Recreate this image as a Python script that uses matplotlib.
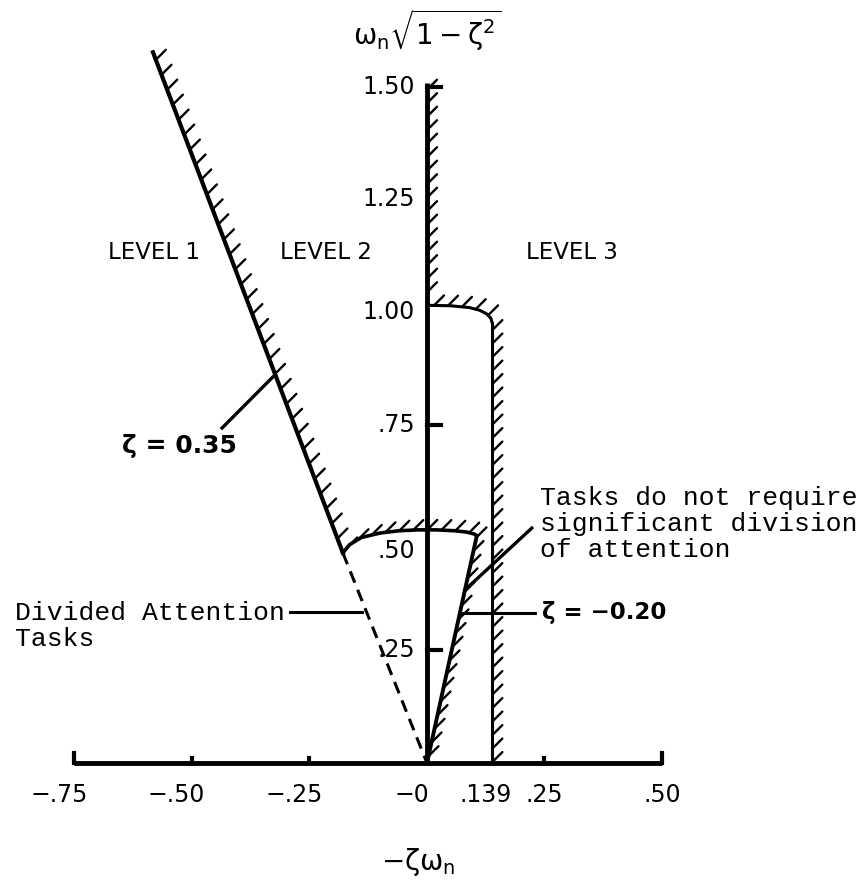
import numpy as np
import matplotlib
matplotlib.use('Agg')
import matplotlib.pyplot as plt
from matplotlib.collections import LineCollection

plt.rcParams['mathtext.fontset'] = 'dejavusans'
plt.rcParams['mathtext.default'] = 'regular'

# x / y tick values and labels
x_ticks = [-0.75, -0.50, -0.25, 0.0, 0.139, 0.25, 0.50]
x_labels = ['−.75', '−.50', '−.25', '−0', '.139', '.25', '.50']
y_ticks = [0.25, 0.50, 0.75, 1.00, 1.25, 1.50]
y_labels = ['.25', '.50', '.75', '1.00', '1.25', '1.50']

# zeta = 0.35 boundary (solid part, then dashed to origin)
z035_x = [-0.583, -0.179]
z035_y = [1.576, 0.466]
z035_dash_x = [-0.179, 0.0]
z035_dash_y = [0.466, 0.0]

# level 2 upper boundary (curve near 0.5)
l2_curve_x = [-0.179, -0.165, -0.14, -0.10, -0.06, -0.02, 0.02, 0.06, 0.085, 0.10, 0.106]
l2_curve_y = [0.466, 0.484, 0.500, 0.510, 0.515, 0.517, 0.517, 0.515, 0.512, 0.508, 0.504]

# zeta = -0.20 boundary
zneg_x = [0.106, 0.0]
zneg_y = [0.504, 0.0]

# level 3 boundary: y axis above 1.0, top edge, and the .139 line
l3_axis_x = [0.0, 0.0]
l3_axis_y = [1.508, 1.015]
l3_top_x = [0.0, 0.05, 0.09, 0.112, 0.127, 0.136, 0.139]
l3_top_y = [1.015, 1.014, 1.010, 1.004, 0.996, 0.986, 0.975]
l3_side_x = [0.139, 0.139]
l3_side_y = [0.975, 0.0]

fig = plt.figure(figsize=(8.61, 8.81), dpi=100)
ax = fig.add_axes([0, 0, 1, 1])
ax.set_xlim(-0.9085, 0.9234)
ax.set_ylim(-0.2616, 1.692)
ax.axis('off')


def hatch(xs, ys, step=14, dx=10, dy=10, lw=1.7):
    # short strokes along a boundary, all pointing up-right
    pts = ax.transData.transform(np.column_stack([xs, ys]))
    seg = np.hypot(*np.diff(pts, axis=0).T)
    s = np.concatenate([[0], np.cumsum(seg)])
    d = np.arange(step * 0.5, s[-1], step)
    p = np.column_stack([np.interp(d, s, pts[:, 0]), np.interp(d, s, pts[:, 1])])
    inv = ax.transData.inverted()
    a = inv.transform(p)
    b = inv.transform(p + [dx, dy])
    segs = np.stack([a, b], axis=1)
    ax.add_collection(LineCollection(segs, colors='black', linewidths=lw, capstyle='round'))


# axes
ax.plot([x_ticks[0], x_ticks[-1]], [0, 0], color='black', lw=3.5, solid_capstyle='butt')
ax.plot([0, 0], [0, 1.508], color='black', lw=3.5, solid_capstyle='butt')
for xv in x_ticks:
    if xv in (x_ticks[0], x_ticks[-1]):
        ax.plot([xv, xv], [0, 0.022], color='black', lw=3)
    elif xv not in (0.0, 0.139):
        ax.plot([xv, xv], [0, 0.011], color='black', lw=3)
for yv in (0.25, 0.75, 1.50):
    ax.plot([0, 0.03], [yv, yv], color='black', lw=3)

# tick labels
for xv, lab in zip(x_ticks, x_labels):
    off = -0.033 if lab.startswith('−') else (-0.015 if lab == '.139' else 0)
    ax.text(xv + off, -0.071, lab, ha='center', va='center', fontsize=17)
for yv, lab in zip(y_ticks, y_labels):
    yy = yv - 0.03 if lab == '.50' else yv
    ax.text(-0.0255, yy, lab, ha='right', va='center', fontsize=17)

# boundaries
ax.plot(z035_x, z035_y, color='black', lw=3)
hatch(z035_x, z035_y, step=16)
ax.plot(z035_dash_x, z035_dash_y, color='black', lw=2.2, dashes=(4, 2.5))

ax.plot(l2_curve_x, l2_curve_y, color='black', lw=2.6)
hatch(l2_curve_x, l2_curve_y)
ax.plot(zneg_x, zneg_y, color='black', lw=2.8)
hatch(zneg_x[::-1], zneg_y[::-1])

hatch(l3_axis_x, l3_axis_y, step=13.5)
ax.plot(l3_top_x, l3_top_y, color='black', lw=2.2)
hatch(l3_top_x, l3_top_y)
ax.plot(l3_side_x, l3_side_y, color='black', lw=2.2)
hatch(l3_side_x, l3_side_y, step=13.5)

# axis titles
ax.text(0.0, 1.625, r'$\omega_n\sqrt{1-\zeta^2}$', ha='center', va='center', fontsize=20)
ax.text(-0.019, -0.2195, r'$-\zeta\omega_n$', ha='center', va='center', fontsize=20)

# level labels
ax.text(-0.581, 1.131, 'LEVEL 1', ha='center', va='center', fontsize=16.5)
ax.text(-0.215, 1.131, 'LEVEL 2', ha='center', va='center', fontsize=16.5)
ax.text(0.309, 1.131, 'LEVEL 3', ha='center', va='center', fontsize=16.5)

# zeta annotations
ax.text(-0.526, 0.703, 'ζ = 0.35', ha='center', va='center', fontsize=18, fontweight='bold')
ax.plot([-0.436, -0.328], [0.743, 0.856], color='black', lw=2.4)
ax.text(0.245, 0.333, 'ζ = −0.20', ha='left', va='center', fontsize=16.5, fontweight='bold')
ax.plot([0.074, 0.230], [0.333, 0.333], color='black', lw=2.2)

# task notes
mono = 'Liberation Mono'
ax.text(-0.877, 0.304, 'Divided Attention\nTasks', ha='left', va='center',
        fontsize=19, family=mono, linespacing=1.06)
ax.plot([-0.291, -0.138], [0.335, 0.335], color='black', lw=2.2)
ax.text(0.240, 0.530, 'Tasks do not require\nsignificant division\nof attention',
        ha='left', va='center', fontsize=19, family=mono, linespacing=1.1)
ax.plot([0.223, 0.081], [0.521, 0.384], color='black', lw=2.4)

fig.savefig('out.png', dpi=100)
